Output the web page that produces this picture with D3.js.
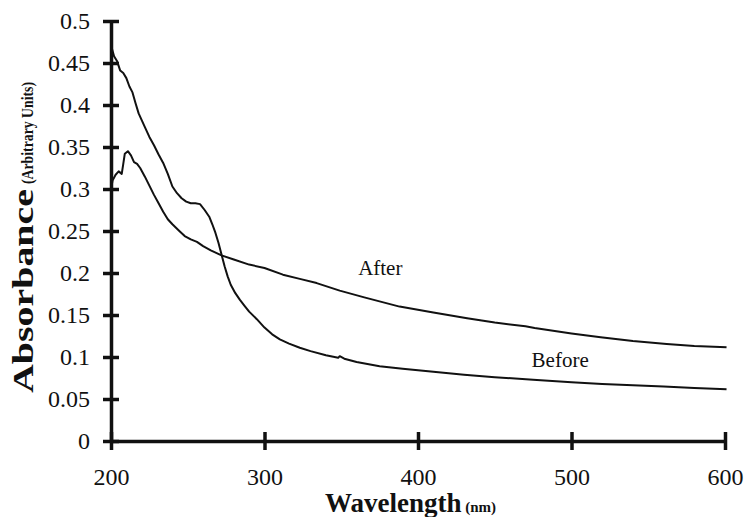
<!DOCTYPE html>
<html>
<head>
<meta charset="utf-8">
<script src="https://cdn.jsdelivr.net/npm/d3@7"></script>
<style>
  body { margin: 0; background: #fff; }
  svg { display: block; }
</style>
</head>
<body>
<div id="chart"></div>
<script>
'use strict';

const width = 745,
    height = 517,
    margin = {top: 21, right: 20, bottom: 76, left: 111},
    serif = "Liberation Serif, Times New Roman, serif";

// values: [wavelength nm, absorbance]
const beforeData = [
    [200, 0.471], [202, 0.458], [204, 0.452], [206, 0.441], [208, 0.438], [210, 0.432],
    [212, 0.422], [214, 0.415], [216, 0.402], [218, 0.390], [220, 0.382], [222, 0.374],
    [225, 0.362], [228, 0.352], [231, 0.341], [234, 0.331], [237, 0.318], [240, 0.303],
    [243, 0.295], [246, 0.289], [249, 0.285], [252, 0.283], [255, 0.283], [258, 0.282],
    [261, 0.275], [264, 0.267], [266, 0.258], [268, 0.248], [270, 0.236], [272, 0.222],
    [274, 0.208], [276, 0.196], [278, 0.186], [281, 0.176], [284, 0.168], [287, 0.161],
    [290, 0.154], [295, 0.145], [300, 0.135], [305, 0.127], [310, 0.121], [316, 0.116],
    [323, 0.111], [330, 0.107], [340, 0.102], [348, 0.099], [349, 0.101], [352, 0.098],
    [360, 0.094], [375, 0.089], [390, 0.086], [410, 0.0825], [430, 0.079], [450, 0.076],
    [475, 0.073], [500, 0.070], [520, 0.068], [540, 0.0665], [560, 0.065], [580, 0.063],
    [601, 0.0615]
];
const afterData = [
    [200, 0.299], [201, 0.310], [203, 0.317], [205, 0.321], [207, 0.318], [208, 0.330],
    [209, 0.342], [211, 0.345], [213, 0.340], [215, 0.332], [217, 0.330], [219, 0.325],
    [222, 0.315], [225, 0.304], [228, 0.293], [231, 0.283], [234, 0.273], [237, 0.264],
    [240, 0.258], [244, 0.251], [248, 0.244], [252, 0.240], [256, 0.237], [260, 0.232],
    [265, 0.227], [272, 0.221], [280, 0.216], [290, 0.210], [300, 0.206], [312, 0.198],
    [323, 0.193], [334, 0.188], [349, 0.179], [365, 0.171], [388, 0.160], [410, 0.153],
    [432, 0.146], [450, 0.141], [470, 0.1365], [476, 0.1345], [500, 0.128], [519, 0.1235],
    [540, 0.119], [562, 0.1155], [580, 0.113], [601, 0.1115]
];
const xTicks = [200, 300, 400, 500, 600];
const yTicks = [0, 0.05, 0.1, 0.15, 0.2, 0.25, 0.3, 0.35, 0.4, 0.45, 0.5];
const seriesLabels = [
    {text: "After", wl: 361, abs: 0.198},
    {text: "Before", wl: 474, abs: 0.088}
];

const svg = d3.select("#chart")
    .append("svg")
    .attr("width", width)
    .attr("height", height)
    .attr("font-family", serif);

const xScale = d3.scaleLinear()
    .domain([200, 600])
    .range([margin.left, width - margin.right]);
const yScale = d3.scaleLinear()
    .domain([0, 0.5])
    .range([height - margin.bottom, margin.top]);

const line = d3.line()
    .x(d => xScale(d[0]))
    .y(d => yScale(d[1]));

// curves
[beforeData, afterData].forEach(data => {
    svg.append("path")
        .datum(data)
        .attr("fill", "none")
        .attr("stroke", "#111")
        .attr("stroke-width", 2)
        .attr("stroke-linejoin", "round")
        .attr("d", line);
});

// axes
const yAxis = svg.append("g")
    .attr("transform", `translate(${margin.left},0)`)
    .call(d3.axisLeft(yScale).tickValues(yTicks).tickSizeOuter(0).tickFormat(d => String(d)));

const xAxis = svg.append("g")
    .attr("transform", `translate(0,${height - margin.bottom})`)
    .call(d3.axisBottom(xScale).tickValues(xTicks).tickSizeOuter(0).tickFormat(d => String(d)));

[yAxis, xAxis].forEach(g => {
    g.attr("font-family", serif).attr("font-size", 24);
    g.select(".domain").attr("stroke", "#111").attr("stroke-width", 3.5);
    g.selectAll(".tick line").attr("stroke", "#111").attr("stroke-width", 3.5);
    g.selectAll(".tick text").attr("fill", "#111");
});
yAxis.selectAll(".tick line").attr("x1", -8).attr("x2", 8);
yAxis.selectAll(".tick text").attr("x", -21).attr("dy", "0.33em");
xAxis.selectAll(".tick line").attr("y1", -9).attr("y2", 9);
xAxis.selectAll(".tick text").attr("y", 44).attr("dy", 0);

// series labels
svg.selectAll(".series-label")
    .data(seriesLabels)
    .join("text")
    .attr("class", "series-label")
    .attr("x", d => xScale(d.wl))
    .attr("y", d => yScale(d.abs))
    .attr("font-size", 21)
    .attr("fill", "#111")
    .text(d => d.text);

// axis titles
const xTitle = svg.append("text")
    .attr("x", 325)
    .attr("y", 512)
    .attr("fill", "#111")
    .attr("font-weight", "bold");
xTitle.append("tspan").attr("font-size", 27).text("Wavelength");
xTitle.append("tspan").attr("font-size", 15).text(" (nm)");

const yTitle = svg.append("g")
    .attr("transform", "translate(33,393) rotate(-90)")
    .attr("fill", "#111")
    .attr("font-weight", "bold");
yTitle.append("text")
    .attr("x", 0)
    .attr("font-size", 30)
    .attr("textLength", 204)
    .attr("lengthAdjust", "spacingAndGlyphs")
    .text("Absorbance");
yTitle.append("text")
    .attr("x", 209)
    .attr("font-size", 17)
    .attr("textLength", 102)
    .attr("lengthAdjust", "spacingAndGlyphs")
    .text("(Arbitrary Units)");
</script>
</body>
</html>
